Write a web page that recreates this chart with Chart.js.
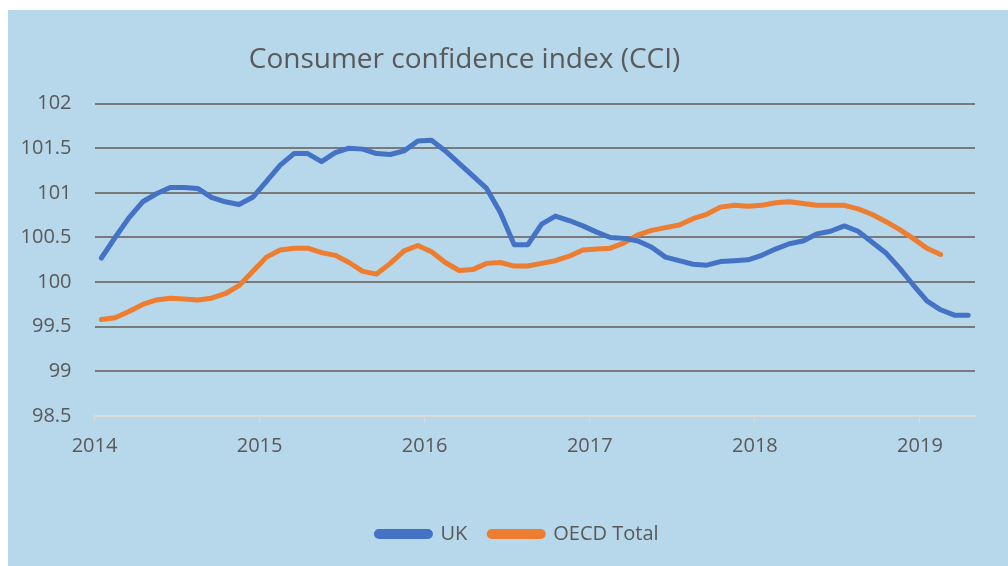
<!DOCTYPE html>
<html lang="en">
<head>
<meta charset="UTF-8">
<title>Consumer confidence index (CCI)</title>
<style>
  html, body { margin: 0; padding: 0; background: #ffffff; }
  .frame {
    position: absolute;
    left: 8px;
    top: 10px;
    width: 1000px;
    height: 556px;
    background: #b7d7ea;
  }
</style>
</head>
<body>
<div class="frame"><canvas id="cci"></canvas></div>

<script src="https://cdn.jsdelivr.net/npm/chart.js"></script>
<script>
// monthly series starting Jan 2014
const startYear = 2014;
const yearTicks = [2014, 2015, 2016, 2017, 2018, 2019];

const ukValues = [
  100.27, 100.50, 100.72, 100.90, 100.99, 101.06, 101.06, 101.05, 100.95, 100.90, 100.87, 100.95,
  101.13, 101.31, 101.44, 101.44, 101.35, 101.45, 101.50, 101.49, 101.44, 101.43, 101.47, 101.58,
  101.59, 101.47, 101.33, 101.19, 101.05, 100.78, 100.42, 100.42, 100.65, 100.74, 100.69, 100.63,
  100.56, 100.50, 100.49, 100.46, 100.39, 100.28, 100.24, 100.20, 100.19, 100.23, 100.24, 100.25,
  100.30, 100.37, 100.43, 100.46, 100.54, 100.57, 100.63, 100.57, 100.45, 100.33, 100.16, 99.97,
  99.79, 99.69, 99.63, 99.63
];

const oecdValues = [
  99.58, 99.60, 99.67, 99.75, 99.80, 99.82, 99.81, 99.80, 99.82, 99.87, 99.96, 100.12,
  100.28, 100.36, 100.38, 100.38, 100.33, 100.30, 100.22, 100.12, 100.09, 100.21, 100.35, 100.41,
  100.34, 100.22, 100.13, 100.14, 100.21, 100.22, 100.18, 100.18, 100.21, 100.24, 100.29, 100.36,
  100.37, 100.38, 100.44, 100.53, 100.58, 100.61, 100.64, 100.71, 100.76, 100.84, 100.86, 100.85,
  100.86, 100.89, 100.90, 100.88, 100.86, 100.86, 100.86, 100.82, 100.76, 100.68, 100.59, 100.49,
  100.38, 100.31
];

// put each month in the middle of its interval
function toPoints(values) {
  return values.map((v, i) => ({ x: startYear + (i + 0.5) / 12, y: v }));
}

const textColor = '#595959';
const font = 'Open Sans';

// title sits a bit left of centre, legend a bit right, as in the original
const nudgeBlocks = {
  id: 'nudgeBlocks',
  afterLayout(chart) {
    if (chart.titleBlock) {
      chart.titleBlock.left -= 27;
      chart.titleBlock.right -= 27;
    }
    if (chart.legend) {
      chart.legend.left += 26;
      chart.legend.right += 26;
    }
  }
};

new Chart(document.getElementById('cci'), {
  type: 'line',
  data: {
    datasets: [
      {
        label: 'UK',
        data: toPoints(ukValues),
        borderColor: '#4472c4',
        backgroundColor: '#4472c4',
        borderWidth: 5,
        pointRadius: 0,
        borderCapStyle: 'round',
        borderJoinStyle: 'round'
      },
      {
        label: 'OECD Total',
        data: toPoints(oecdValues),
        borderColor: '#ed7d31',
        backgroundColor: '#ed7d31',
        borderWidth: 5,
        pointRadius: 0,
        borderCapStyle: 'round',
        borderJoinStyle: 'round'
      }
    ]
  },
  options: {
    responsive: true,
    maintainAspectRatio: false,
    animation: false,
    layout: { padding: { top: 0, right: 33, bottom: 12, left: 0 } },
    scales: {
      x: {
        type: 'linear',
        min: 2014,
        max: 2019 + 4 / 12,
        afterBuildTicks: (scale) => {
          scale.ticks = yearTicks.map(v => ({ value: v }));
        },
        afterFit: (scale) => { scale.height = 86; },
        ticks: {
          color: textColor,
          font: { family: font, size: 20 },
          padding: 12,
          maxRotation: 0,
          callback: (v) => String(v)
        },
        grid: {
          drawOnChartArea: false,
          color: '#d9d9d9',
          tickLength: 6
        },
        border: { color: '#d9d9d9', width: 2 }
      },
      y: {
        min: 98.5,
        max: 102,
        afterFit: (scale) => { scale.width = 86.5; },
        ticks: {
          stepSize: 0.5,
          color: textColor,
          font: { family: font, size: 20 },
          padding: 23,
          callback: (v) => String(v)
        },
        grid: {
          drawTicks: false,
          lineWidth: 2,
          color: (ctx) => ctx.tick && ctx.tick.value === 98.5 ? 'rgba(0,0,0,0)' : '#7a7a7a'
        },
        border: { display: false }
      }
    },
    plugins: {
      title: {
        display: true,
        text: 'Consumer confidence index (CCI)',
        color: textColor,
        font: { family: font, size: 28, weight: 'normal' },
        padding: { top: 33, bottom: 27 }
      },
      legend: {
        position: 'bottom',
        labels: {
          color: textColor,
          font: { family: font, size: 20 },
          boxWidth: 54,
          boxHeight: 5,
          useBorderRadius: true,
          borderRadius: 2.5,
          padding: 22
        }
      },
      tooltip: { enabled: false }
    }
  },
  plugins: [nudgeBlocks]
});
</script>
</body>
</html>
